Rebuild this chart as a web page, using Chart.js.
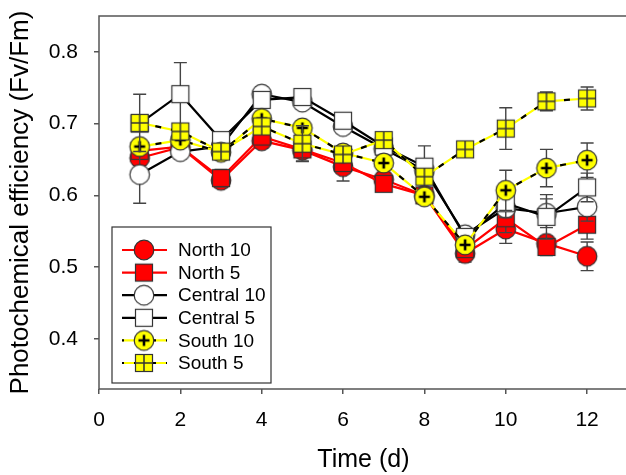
<!DOCTYPE html>
<html>
<head>
<meta charset="utf-8">
<script src="https://cdn.jsdelivr.net/npm/chart.js@4.4.1/dist/chart.umd.min.js"></script>
<style>
html,body{margin:0;padding:0;background:#fff;overflow:hidden;width:626px;height:475px;}
canvas{display:block;}
</style>
</head>
<body>
<canvas id="c" width="640" height="475"></canvas>
<script>
// ---- data ----
const days = [1,2,3,4,5,6,7,8,9,10,11,12];
const seriesNames = ["North 10","North 5","Central 10","Central 5","South 10","South 5"];
const north10 = [0.652,0.667,0.621,0.676,0.663,0.640,0.622,0.600,0.519,0.553,0.533,0.515];
const north5  = [0.662,0.668,0.624,0.682,0.664,0.645,0.616,0.600,0.525,0.568,0.528,0.559];
const central10 = [0.629,0.661,0.668,0.741,0.730,0.696,0.665,0.635,0.545,0.582,0.575,0.584];
const central5  = [0.700,0.741,0.677,0.733,0.737,0.704,0.668,0.640,0.542,0.589,0.570,0.611];
const south10 = [0.668,0.677,0.660,0.707,0.694,0.659,0.645,0.598,0.531,0.607,0.638,0.649];
const south5  = [0.701,0.689,0.661,0.696,0.672,0.657,0.677,0.626,0.664,0.693,0.731,0.735];
const north10Err = [0.010,0.010,0.010,0.010,0.015,0.020,0.010,0.010,0.012,0.020,0.010,0.020];
const north5Err  = [0.010,0.010,0.012,0.010,0.010,0.010,0.010,0.010,0.010,0.020,0.012,0.020];
const central10Err = [0.040,0.010,0.010,0.010,0.010,0.010,0.010,0.010,0.010,0.010,0.020,0.020];
const central5Err  = [0.010,0.044,0.010,0.010,0.005,0.010,0.010,0.029,0.010,0.020,0.031,0.020];
const south10Err = [0.010,0.010,0.010,0.010,0.010,0.010,0.010,0.010,0.010,0.028,0.026,0.024];
const south5Err  = [0.040,0.010,0.010,0.010,0.025,0.010,0.010,0.010,0.005,0.029,0.013,0.016];
const xTicks = [0,2,4,6,8,10,12];
const yTicks = [0.4,0.5,0.6,0.7,0.8];

// ---- markers ----
function mk(shape, fill, deco){
  const s = 26, c = document.createElement('canvas'); c.width = s; c.height = s;
  const g = c.getContext('2d'); const m = s/2;
  g.fillStyle = fill; g.strokeStyle = '#333'; g.lineWidth = 1.2;
  if (shape === 'circle'){ g.beginPath(); g.arc(m,m,9.8,0,Math.PI*2); g.fill(); g.stroke(); }
  else { g.fillRect(m-8.5,m-8.5,17,17); g.strokeRect(m-8.5,m-8.5,17,17); }
  if (deco === 'plus'){ g.strokeStyle='#000'; g.lineWidth=2.6; g.beginPath(); g.moveTo(m-5.5,m); g.lineTo(m+5.5,m); g.moveTo(m,m-5.5); g.lineTo(m,m+5.5); g.stroke(); }
  if (deco === 'grid'){ g.strokeStyle='#333'; g.lineWidth=1.5; g.beginPath(); g.moveTo(m-8.5,m); g.lineTo(m+8.5,m); g.moveTo(m,m-8.5); g.lineTo(m,m+8.5); g.stroke(); }
  return c;
}
const markers = [mk('circle','#ff0000'), mk('rect','#ff0000'), mk('circle','#ffffff'), mk('rect','#ffffff'), mk('circle','#ffff00','plus'), mk('rect','#ffff00','grid')];
const values = [north10,north5,central10,central5,south10,south5];
const errs = [north10Err,north5Err,central10Err,central5Err,south10Err,south5Err];
const lineColors = ['#ff0000','#ff0000','#000000','#000000','#ffff00','#ffff00'];
const dashed = [false,false,false,false,true,true];
const FONT = '"Liberation Sans", Arial, sans-serif';

const datasets = [];
let ord = 1000;
values.forEach((v,i)=>{
  const pts = days.map((d,k)=>({x:d,y:v[k]}));
  if (dashed[i]) {
    datasets.push({label:'_y'+i, data:pts, borderColor:lineColors[i], borderWidth:2.2, pointRadius:0, showLine:true, order:ord--, fill:false});
    datasets.push({label:seriesNames[i], data:pts, borderColor:'#000', borderWidth:2.2, borderDash:[6,10], pointStyle:markers[i], pointRadius:10, showLine:true, order:ord--, fill:false, errIdx:i});
  } else {
    datasets.push({label:seriesNames[i], data:pts, borderColor:lineColors[i], borderWidth:2.2, pointStyle:markers[i], pointRadius:10, showLine:true, order:ord--, fill:false, errIdx:i});
  }
});

const errPlugin = {
  id:'err',
  beforeDatasetDraw(chart, args){
    const ds = chart.data.datasets[args.index];
    if (ds.errIdx === undefined) return;
    const e = errs[ds.errIdx], v = values[ds.errIdx];
    const xs = chart.scales.x, ys = chart.scales.y, ctx = chart.ctx;
    ctx.save(); ctx.strokeStyle = '#444'; ctx.lineWidth = 1.4;
    days.forEach((d,k)=>{
      const px = xs.getPixelForValue(d), top = ys.getPixelForValue(v[k]+e[k]), bot = ys.getPixelForValue(v[k]-e[k]);
      ctx.beginPath();
      ctx.moveTo(px,top); ctx.lineTo(px,bot);
      ctx.moveTo(px-6.5,top); ctx.lineTo(px+6.5,top);
      ctx.moveTo(px-6.5,bot); ctx.lineTo(px+6.5,bot);
      ctx.stroke();
    });
    ctx.restore();
  }
};

const framePlugin = {
  id:'frame',
  beforeDatasetsDraw(chart){
    const a = chart.chartArea, ctx = chart.ctx;
    ctx.save(); ctx.strokeStyle = '#555'; ctx.lineWidth = 1.5;
    ctx.strokeRect(a.left, a.top, a.right-a.left, a.bottom-a.top);
    ctx.restore();
  }
};

const legendPlugin = {
  id:'boxlegend',
  afterDraw(chart){
    const a = chart.chartArea, ctx = chart.ctx;
    const bx = a.left + 13, by = a.bottom - 162, bw = 159, bh = 156;
    ctx.save();
    ctx.fillStyle = '#fff'; ctx.fillRect(bx,by,bw,bh);
    ctx.strokeStyle = '#333'; ctx.lineWidth = 1.2; ctx.strokeRect(bx,by,bw,bh);
    seriesNames.forEach((n,i)=>{
      const yy = by + 23 + i*22.6;
      ctx.lineWidth = 2.2;
      ctx.strokeStyle = lineColors[i]; ctx.setLineDash([]);
      ctx.beginPath(); ctx.moveTo(bx+10,yy); ctx.lineTo(bx+55,yy); ctx.stroke();
      if (dashed[i]) { ctx.strokeStyle='#000'; ctx.setLineDash([6,10]); ctx.lineDashOffset = -28; ctx.beginPath(); ctx.moveTo(bx+10,yy); ctx.lineTo(bx+55,yy); ctx.stroke(); ctx.setLineDash([]); }
      const m = markers[i];
      ctx.drawImage(m, bx+32-m.width/2, yy-m.height/2);
      ctx.fillStyle = '#000'; ctx.font = '19px ' + FONT;
      ctx.textBaseline = 'middle'; ctx.textAlign = 'left';
      ctx.fillText(n, bx+66, yy+1);
    });
    ctx.restore();
  }
};

new Chart(document.getElementById('c'), {
  type:'scatter',
  data:{datasets},
  plugins:[errPlugin, framePlugin, legendPlugin],
  options:{
    responsive:false, animation:false, events:[],
    layout:{padding:{top:16,right:10,left:0,bottom:0}},
    plugins:{legend:{display:false}, tooltip:{enabled:false}},
    scales:{
      x:{type:'linear', min:0, max:13,
        afterBuildTicks(s){ s.ticks = xTicks.map(v=>({value:v})); },
        afterFit(s){ s.height = 86; s.paddingLeft = 0; s.paddingRight = 0; },
        border:{display:false},
        grid:{display:true, drawOnChartArea:false, drawTicks:true, tickLength:5, color:'#555', lineWidth:1.5},
        ticks:{color:'#000', padding:14, font:{family:FONT, size:21}, maxRotation:0},
        title:{display:true, text:'Time (d)', color:'#000', font:{family:FONT, size:25}, padding:{top:0,bottom:0}}
      },
      y:{type:'linear', min:0.33, max:0.85,
        afterBuildTicks(s){ s.ticks = yTicks.map(v=>({value:v})); },
        afterFit(s){ s.width = 99; s.paddingTop = 0; s.paddingBottom = 0; },
        border:{display:false},
        grid:{display:true, drawOnChartArea:false, drawTicks:true, tickLength:5, color:'#555', lineWidth:1.5},
        ticks:{color:'#000', padding:16, font:{family:FONT, size:21}, callback:v=>v.toFixed(1)},
        title:{display:true, text:'Photochemical efficiency (Fv/Fm)', color:'#000', font:{family:FONT, size:26}, padding:{top:5,bottom:0}}
      }
    }
  }
});
</script>
</body>
</html>
